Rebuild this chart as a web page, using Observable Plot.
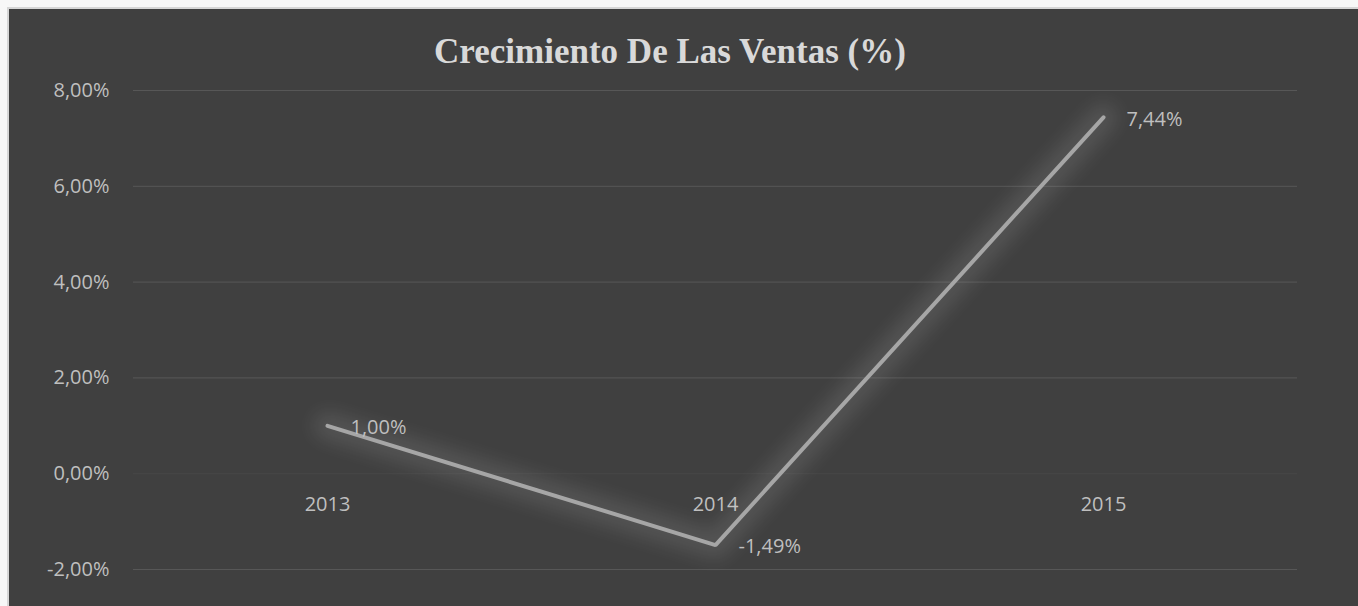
<!DOCTYPE html>
<html>
<head>
<meta charset="utf-8">
<script src="https://cdn.jsdelivr.net/npm/d3@7"></script>
<script src="https://cdn.jsdelivr.net/npm/@observablehq/plot@0.6"></script>
<style>
  html, body { margin: 0; padding: 0; background: #f7f7f7; width: 1358px; height: 606px; overflow: hidden; }
  #frame { position: absolute; left: 7px; top: 7px; width: 1351px; height: 599px; border-left: 2px solid #d6d6d6; border-top: 2px solid #d6d6d6; background: #404040; }
  #title { position: absolute; left: 0; top: 23px; width: 1322px; text-align: center; font-family: "Liberation Serif", "Times New Roman", serif; font-weight: bold; font-size: 35px; color: #d9d9d9; line-height: 1.15; }
  #chart { position: absolute; left: 0; top: 0; }
</style>
</head>
<body>
<div id="frame">
  <div id="chart"></div>
  <div id="title">Crecimiento De Las Ventas (%)</div>
</div>
<script>
const years = ["2013", "2014", "2015"];
const growth = [1.00, -1.49, 7.44];
const yTicks = [-2, 0, 2, 4, 6, 8];

const data = years.map((y, i) => ({year: y, value: growth[i]}));
const fmt = v => v.toFixed(2).replace(".", ",") + "%";
const font = "'Open Sans', 'Noto Sans', sans-serif";

const chart = Plot.plot({
  width: 1349,
  height: 597,
  marginLeft: 124,
  marginRight: 61,
  marginTop: 81,
  marginBottom: 37,
  style: {background: "transparent", fontFamily: font, fontSize: "20px", color: "#bfbfbf"},
  x: {type: "point", domain: years, padding: 0.5, axis: null},
  y: {domain: [-2, 8], ticks: yTicks, tickFormat: fmt},
  marks: [
    Plot.ruleY(yTicks.filter(t => t !== 0), {stroke: "#575757", strokeWidth: 1}),
    Plot.ruleY([0], {stroke: "#474747", strokeWidth: 1}),
    Plot.axisY({ticks: yTicks, tickFormat: fmt, tickSize: 0, tickPadding: 24, fill: "#bfbfbf", fontSize: 20, label: null}),
    Plot.text(years, {x: d => d, y: () => 0, dy: 31, text: d => d, fill: "#bfbfbf", fontSize: 20}),
    Plot.line(data, {x: "year", y: "value", stroke: "#ffffff", strokeOpacity: 0.1, strokeWidth: 28, strokeLinejoin: "round", strokeLinecap: "round"}),
    Plot.line(data, {x: "year", y: "value", stroke: "#a6a6a6", strokeWidth: 4, strokeLinejoin: "miter"}),
    Plot.text(data, {x: "year", y: "value", text: d => fmt(d.value), textAnchor: "start", dx: 23, dy: 2, fill: "#bfbfbf", fontSize: 20})
  ]
});

const lines = d3.select(chart).selectAll('g[aria-label="line"]').nodes();
if (lines.length) d3.select(lines[0]).selectAll("path").style("filter", "blur(9px)");
document.getElementById("chart").appendChild(chart);
</script>
</body>
</html>
